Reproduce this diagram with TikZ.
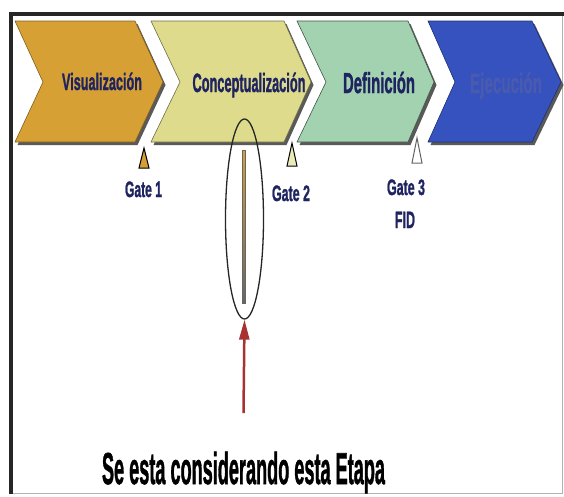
\documentclass[tikz,border=0pt]{standalone}
\usepackage{fontspec}
\usepackage{graphicx}
\setmainfont{Liberation Sans}[BoldFeatures={FakeBold=1.6}]
\usetikzlibrary{arrows.meta,shapes.geometric}
\definecolor{cgold}{HTML}{D6A035}
\definecolor{cyel}{HTML}{DEDC8C}
\definecolor{cgreen}{HTML}{A3D2B0}
\definecolor{cblue}{HTML}{3552BE}
\definecolor{navy}{HTML}{1F2460}
\definecolor{ejec}{HTML}{4A5AAE}
\definecolor{arrred}{HTML}{A83232}
\newcommand{\sqtext}[3]{\resizebox{#1pt}{\height}{\fontsize{#2}{#2}\selectfont\bfseries #3}}
\tikzset{
  lbl/.style={inner sep=0pt, outer sep=0pt, anchor=base},
  gatetri/.style={draw=black, line width=1pt, line join=miter},
}
\begin{document}
\begin{tikzpicture}[x=1pt,y=-1pt]
\useasboundingbox (0,0) rectangle (564,496);
\fill[white] (0,0) rectangle (564,496);
% frame
\draw[gray!60, line width=0.8pt] (562,14) -- (562,493) -- (11,493);
\draw[black!85, line width=3.5pt] (11,494) -- (11,14) -- (564,14);
% chevron shadows
\foreach \a/\b/\c/\d in {15/135/163/43, 151/284/311/180, 297/408/434/326, 428/532/561/455}{
  \fill[black!65] ([shift={(2.5,3)}]\a,21) -- ([shift={(2.5,3)}]\b,21) -- ([shift={(2.5,3)}]\c,82) -- ([shift={(2.5,3)}]\b,142) -- ([shift={(2.5,3)}]\a,142) -- ([shift={(2.5,3)}]\d,82) -- cycle;
}
% chevrons
\fill[cgold, draw=cgold!60!black, line width=0.6pt] (15,21) -- (135,21) -- (163,82) -- (135,142) -- (15,142) -- (43,82) -- cycle;
\fill[cyel, draw=cyel!50!black, line width=0.6pt] (151,21) -- (284,21) -- (311,82) -- (284,142) -- (151,142) -- (180,82) -- cycle;
\fill[cgreen, draw=cgreen!40!black, line width=0.6pt] (297,21) -- (408,21) -- (434,82) -- (408,142) -- (297,142) -- (326,82) -- cycle;
\fill[cblue, draw=cblue!60!black, line width=0.6pt] (428,21) -- (532,21) -- (561,82) -- (532,142) -- (428,142) -- (455,82) -- cycle;
% chevron labels
\node[lbl, text=navy] (vis) at (102,90) {\sqtext{80}{23.7}{Visualización}};
\node[lbl, text=navy] (con) at (249,92) {\sqtext{113}{26.5}{Conceptualización}};
\node[lbl, text=navy] (def) at (379,93) {\sqtext{72}{29}{Definición}};
\node[lbl, text=ejec] (eje) at (506,93) {\sqtext{72}{28}{Ejecución}};
% gate triangles
\filldraw[gatetri, fill=cgold] (144,148) -- (149,168) -- (139,168) -- cycle;
\filldraw[gatetri, fill=cyel!60!white] (292,143) -- (297,166) -- (287,166) -- cycle;
\filldraw[gatetri, draw=black!60, fill=white] (417,138) -- (422,163) -- (412,163) -- cycle;
% gate labels
\node[lbl, text=navy] (g1) at (143.5,197) {\sqtext{37}{22.3}{Gate 1}};
\node[lbl, text=navy] (g2) at (291,201) {\sqtext{38}{22.3}{Gate 2}};
\node[lbl, text=navy] (g3) at (406,195) {\sqtext{38}{22.3}{Gate 3}};
\node[lbl, text=navy] (fid) at (405,228) {\sqtext{20}{23.7}{FID}};
% bar inside ellipse
\shade[top color=cgold, bottom color=black!60, draw=black!60, line width=0.3pt] (242,150) rectangle (245.5,303);
% ellipse
\node[draw=black!85, line width=1.3pt, ellipse, minimum width=38pt, minimum height=200pt, inner sep=0pt] (ell) at (244.5,219) {};
% red arrow
\coordinate (arrstart) at (243.5,413);
\draw[arrred, line width=2.5pt, -{Triangle[width=10pt,length=20pt]}] (arrstart) -- (ell.south);
% bottom text
\node[lbl, text=black] (etapa) at (243.5,484) {\sqtext{283}{44.7}{Se esta considerando esta Etapa}};
\end{tikzpicture}
\end{document}
